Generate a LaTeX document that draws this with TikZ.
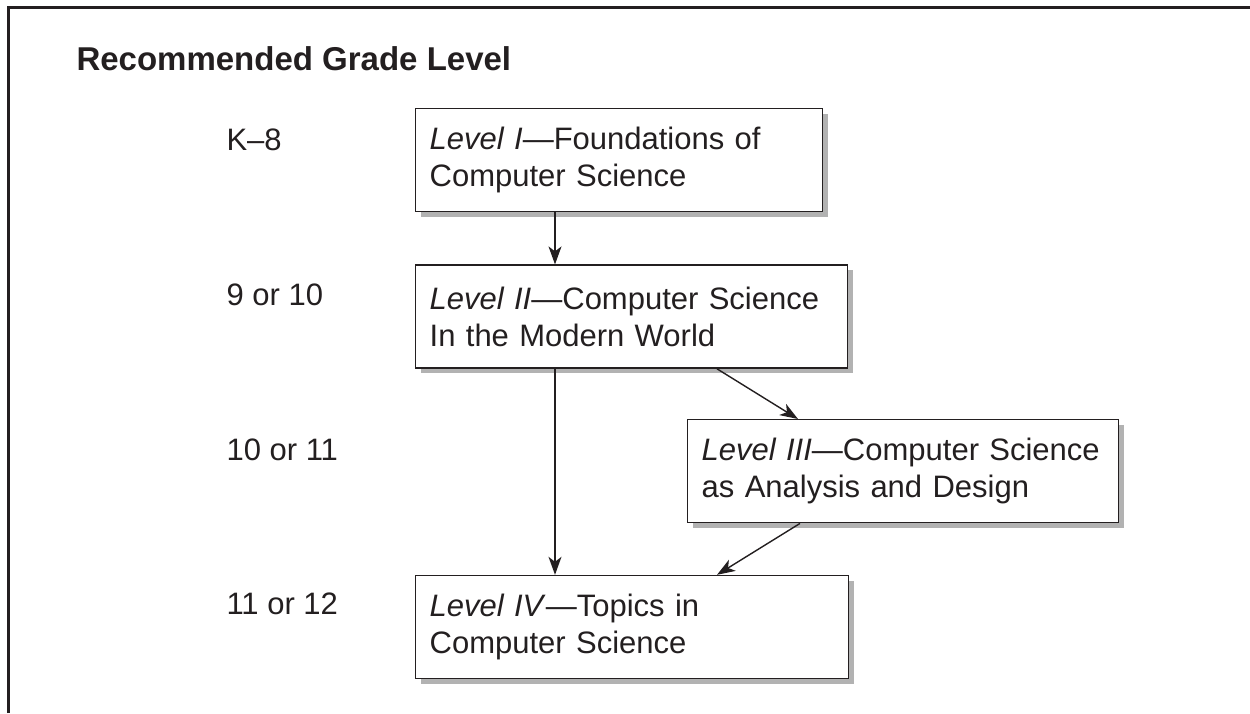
\documentclass[tikz,border=0pt]{standalone}
\usepackage{fontspec}
\setmainfont{Liberation Sans}
\usetikzlibrary{positioning, arrows.meta, shadows}
\definecolor{inkgray}{HTML}{231F20}
\tikzset{
    >={Stealth[length=18pt, width=13pt, inset=5pt]}, % arrow heads
    levelbox/.style={rectangle, draw=inkgray, line width=1.4pt, fill=white,
        text width=#1, minimum height=103pt, inner xsep=14pt, align=left,
        anchor=north west, text=inkgray, font=\fontsize{31}{37}\selectfont,
        copy shadow={shadow xshift=5pt, shadow yshift=-5pt, fill=black!30, draw=none}}, % boxes of the levels
    grade/.style={anchor=base west, text=inkgray, font=\fontsize{31}{37}\selectfont},
    link/.style={->, line width=1.4pt, draw=inkgray},
}

\begin{document}
\begin{tikzpicture}[x=1pt, y=1pt]
    \useasboundingbox (0,0) rectangle (1250,-713);
    % frame, top and left only
    \draw[line width=3pt, inkgray] (8,-713) -- (8,-7) -- (1250,-7);
    \node[anchor=base west, text=inkgray, font=\fontsize{33}{38}\selectfont\bfseries] (title) at (73,-70) {Recommended Grade Level};

    \node[levelbox=379pt] (lvlone) at (415,-108) {\textit{Level I}—Foundations of\\Computer Science};
    \node[levelbox=404pt, below=52pt of lvlone.south west, anchor=north west] (lvltwo) {\textit{Level II}—Computer Science\\In the Modern World};
    \node[levelbox=403pt] (lvlthree) at (687,-419) {\textit{Level III}—Computer Science\\as Analysis and Design};
    \node[levelbox=405pt, below=206pt of lvltwo.south west, anchor=north west] (lvlfour) {\textit{Level IV}—Topics in\\Computer Science};

    \node[grade] (gradeone) at (223,-150) {K–8};
    \node[grade] (gradetwo) at (223,-305) {9 or 10};
    \node[grade] (gradethree) at (223,-460) {10 or 11};
    \node[grade] (gradefour) at (223,-614) {11 or 12};

    \draw[link] ([xshift=140pt]lvlone.south west) -- ([xshift=140pt]lvltwo.north west);
    \draw[link] ([xshift=140pt]lvltwo.south west) -- ([xshift=140pt]lvlfour.north west);
    \draw[link] ([xshift=302pt]lvltwo.south west) -- ([xshift=111pt]lvlthree.north west);
    \draw[link] ([xshift=113pt]lvlthree.south west) -- ([xshift=302pt]lvlfour.north west);
\end{tikzpicture}
\end{document}
